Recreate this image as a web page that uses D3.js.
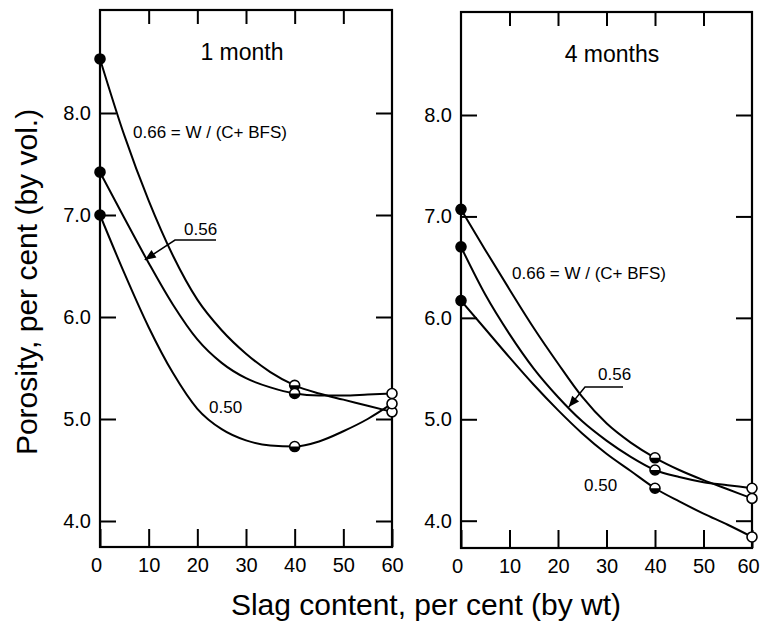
<!DOCTYPE html>
<html>
<head>
<meta charset="utf-8">
<script src="https://cdn.jsdelivr.net/npm/d3@7"></script>
<style>
  body { margin: 0; background: #fff; }
  svg { display: block; }
  text { font-family: "Liberation Sans", Arial, Helvetica, sans-serif; fill: #000; }
</style>
</head>
<body>
<svg id="chart" width="761" height="621"></svg>
<script>
// Slag content (per cent by weight) of the measured mixes
const measuredSlag = [0, 40, 60];
const xTickValues = [0, 10, 20, 30, 40, 50, 60];
const yTickValues = [4, 5, 6, 7, 8];
const panelTitles = ["1 month", "4 months"];
const ratioLabels = ["0.66", "0.56", "0.50"];
const ratioDefinition = " = W / (C+ BFS)";

// Measured porosity, per cent by volume
const oneMonth066 = [8.53, 5.33, 5.07];
const oneMonth056 = [7.42, 5.25, 5.25];
const oneMonth050 = [7.00, 4.73, 5.15];
const fourMonth066 = [7.07, 4.62, 4.22];
const fourMonth056 = [6.70, 4.50, 4.32];
const fourMonth050 = [6.17, 4.32, 3.84];

// Smoothed curves through the measurements
const curveSlag = [0, 5, 10, 15, 20, 25, 30, 35, 40, 45, 50, 55, 60];
const oneMonthCurve066 = [8.53, 7.78, 7.14, 6.60, 6.17, 5.87, 5.64, 5.46, 5.33, 5.25, 5.19, 5.13, 5.07];
const oneMonthCurve056 = [7.42, 6.97, 6.53, 6.12, 5.78, 5.55, 5.40, 5.31, 5.25, 5.23, 5.23, 5.24, 5.25];
const oneMonthCurve050 = [7.00, 6.43, 5.90, 5.45, 5.10, 4.90, 4.79, 4.74, 4.73, 4.78, 4.88, 5.00, 5.15];
const fourMonthCurve066 = [7.07, 6.67, 6.28, 5.90, 5.55, 5.22, 4.96, 4.77, 4.62, 4.50, 4.40, 4.31, 4.22];
const fourMonthCurve056 = [6.70, 6.23, 5.84, 5.50, 5.22, 4.98, 4.79, 4.63, 4.50, 4.43, 4.38, 4.35, 4.32];
const fourMonthCurve050 = [6.17, 5.89, 5.61, 5.34, 5.09, 4.86, 4.66, 4.49, 4.32, 4.19, 4.07, 3.96, 3.84];

const svg = d3.select("#chart");

const panels = [
  {
    title: panelTitles[0],
    left: 100, right: 392, top: 10, bottom: 547, y4: 521, y8: 113,
    points: [oneMonth066, oneMonth056, oneMonth050],
    curves: [oneMonthCurve066, oneMonthCurve056, oneMonthCurve050],
    titlePos: [242, 60],
    defPos: [133, 138],
    label056: [184, 235], under056: [175, 216, 240], tip056: [9.2, 6.56],
    label050: [209, 413]
  },
  {
    title: panelTitles[1],
    left: 461, right: 752, top: 12, bottom: 548, y4: 520.7, y8: 115,
    points: [fourMonth066, fourMonth056, fourMonth050],
    curves: [fourMonthCurve066, fourMonthCurve056, fourMonthCurve050],
    titlePos: [612, 62],
    defPos: [512, 279],
    label056: [598, 380], under056: [585, 623, 387], tip056: [22.2, 5.12],
    label050: [584, 491]
  }
];

const tickLen = 16;
const markerR = 5;

panels.forEach((p, pi) => {
  const x = d3.scaleLinear().domain([0, 60]).range([p.left, p.right]);
  const y = d3.scaleLinear().domain([4, 8]).range([p.y4, p.y8]);
  const g = svg.append("g");

  // left axis with labels, ticks pointing inward
  g.append("g")
    .attr("transform", `translate(${p.left},0)`)
    .call(d3.axisLeft(y).tickValues(yTickValues).tickFormat(d3.format(".1f"))
      .tickSizeInner(-tickLen).tickSizeOuter(0).tickPadding(9))
    .call(a => a.select(".domain").remove())
    .call(a => a.selectAll("line").attr("stroke", "#000").attr("stroke-width", 2))
    .call(a => a.selectAll("text").attr("font-size", 20).attr("font-family", null));

  // right axis ticks only
  g.append("g")
    .attr("transform", `translate(${p.right},0)`)
    .call(d3.axisRight(y).tickValues(yTickValues).tickFormat("")
      .tickSizeInner(-tickLen).tickSizeOuter(0))
    .call(a => a.select(".domain").remove())
    .call(a => a.selectAll("line").attr("stroke", "#000").attr("stroke-width", 2));

  // bottom axis
  g.append("g")
    .attr("transform", `translate(0,${p.bottom})`)
    .call(d3.axisBottom(x).tickValues(xTickValues)
      .tickSizeInner(-tickLen - 2).tickSizeOuter(0).tickPadding(11))
    .call(a => a.select(".domain").remove())
    .call(a => a.selectAll("line").attr("stroke", "#000").attr("stroke-width", 2))
    .call(a => a.selectAll("text").attr("font-size", 20).attr("font-family", null)
      .attr("dx", d => (pi === 1 && d === 60) ? -4 : (d === 0 ? -4 : 0)));

  // top axis ticks only
  g.append("g")
    .attr("transform", `translate(0,${p.top})`)
    .call(d3.axisTop(x).tickValues(xTickValues.slice(1, -1)).tickFormat("")
      .tickSizeInner(-tickLen + 2).tickSizeOuter(0))
    .call(a => a.select(".domain").remove())
    .call(a => a.selectAll("line").attr("stroke", "#000").attr("stroke-width", 2));

  // frame
  g.append("rect")
    .attr("x", p.left).attr("y", p.top)
    .attr("width", p.right - p.left).attr("height", p.bottom - p.top)
    .attr("fill", "none").attr("stroke", "#000").attr("stroke-width", 2.2);

  // curves
  const line = d3.line()
    .x(d => x(d[0])).y(d => y(d[1]))
    .curve(d3.curveMonotoneX);
  p.curves.forEach(c => {
    g.append("path")
      .datum(curveSlag.map((s, i) => [s, c[i]]))
      .attr("d", line)
      .attr("fill", "none").attr("stroke", "#000").attr("stroke-width", 2);
  });

  // markers: solid at 0 %, half-filled at 40 %, open at 60 % slag
  p.points.forEach(vals => {
    vals.forEach((v, i) => {
      const cx = x(measuredSlag[i]), cy = y(v);
      const kind = measuredSlag[i] === 0 ? "solid" : (measuredSlag[i] === 60 ? "open" : "half");
      g.append("circle")
        .attr("cx", cx).attr("cy", cy).attr("r", markerR)
        .attr("fill", kind === "solid" ? "#000" : "#fff")
        .attr("stroke", "#000").attr("stroke-width", 1.6);
      if (kind === "half") {
        g.append("path")
          .attr("d", `M${cx - markerR},${cy} A${markerR},${markerR} 0 0 0 ${cx + markerR},${cy} Z`)
          .attr("fill", "#000");
      }
    });
  });

  // panel title
  g.append("text")
    .attr("x", p.titlePos[0]).attr("y", p.titlePos[1])
    .attr("text-anchor", "middle").attr("font-size", 23)
    .text(p.title);

  // curve labels
  g.append("text")
    .attr("x", p.defPos[0]).attr("y", p.defPos[1])
    .attr("font-size", 17)
    .text(ratioLabels[0] + ratioDefinition);
  g.append("text")
    .attr("x", p.label056[0]).attr("y", p.label056[1])
    .attr("font-size", 17)
    .text(ratioLabels[1]);
  g.append("text")
    .attr("x", p.label050[0]).attr("y", p.label050[1])
    .attr("font-size", 17)
    .text(ratioLabels[2]);

  // leader with arrowhead pointing to the 0.56 curve
  const [u0, u1, uy] = p.under056;
  const tx = x(p.tip056[0]), ty = y(p.tip056[1]);
  g.append("path")
    .attr("d", `M${u1},${uy} L${u0},${uy} L${tx},${ty}`)
    .attr("fill", "none").attr("stroke", "#000").attr("stroke-width", 1.5);
  const ang = Math.atan2(ty - uy, tx - u0);
  const hl = 11, hw = 4.5;
  const bx = tx - hl * Math.cos(ang), by = ty - hl * Math.sin(ang);
  const nx = -Math.sin(ang) * hw, ny = Math.cos(ang) * hw;
  g.append("path")
    .attr("d", `M${tx},${ty} L${bx + nx},${by + ny} L${bx - nx},${by - ny} Z`)
    .attr("fill", "#000");
});

// shared axis titles
svg.append("text")
  .attr("x", 426).attr("y", 615)
  .attr("text-anchor", "middle").attr("font-size", 30)
  .text("Slag content, per cent (by wt)");

svg.append("text")
  .attr("transform", "translate(37,282) rotate(-90)")
  .attr("text-anchor", "middle").attr("font-size", 30)
  .text("Porosity, per cent (by vol.)");
</script>
</body>
</html>
